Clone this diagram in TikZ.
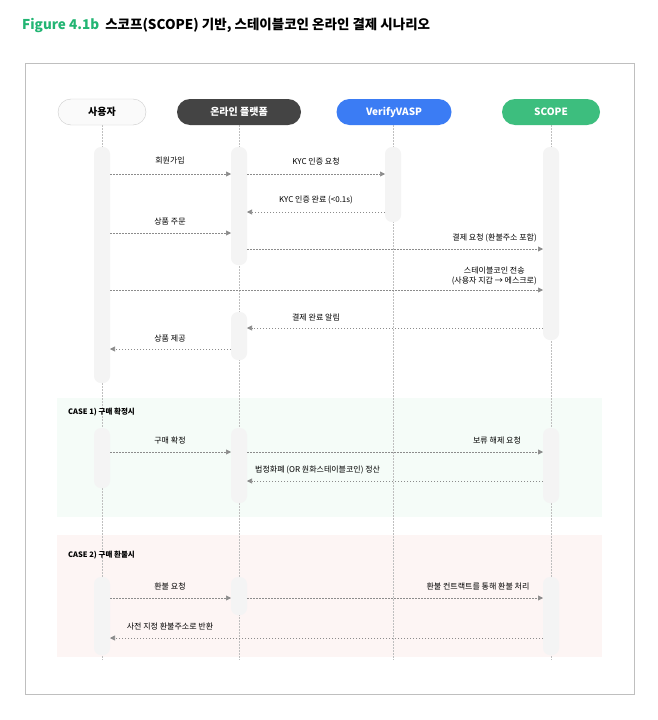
\documentclass[tikz,border=0pt]{standalone}
\usepackage{fontspec}
\setmainfont{Noto Sans CJK KR}
\usetikzlibrary{arrows.meta}
\definecolor{tgreen}{HTML}{22B573}
\definecolor{vblue}{HTML}{3B7CF4}
\definecolor{sgreen}{HTML}{3DBE7E}
\definecolor{dark}{HTML}{444444}
\definecolor{bar}{HTML}{F4F4F4}
\definecolor{case1bg}{HTML}{F5FCF8}
\definecolor{case2bg}{HTML}{FDF5F4}
\tikzset{
 hdr/.style={rounded corners=13pt,minimum height=26pt,font=\fontsize{10}{12}\selectfont\bfseries,inner sep=0pt},
 lane/.style={draw=black!25,dashed,dash pattern=on 1.5pt off 1.5pt,line width=0.6pt},
 actbar/.style={fill=bar,rounded corners=7pt},
 msg/.style={draw=black!45,line width=0.6pt,dash pattern=on 1.5pt off 1.5pt,-{Triangle[length=5pt,width=5pt]}},
 lbl/.style={font=\fontsize{8}{9.5}\selectfont,inner sep=0pt,align=center},
 case/.style={font=\fontsize{7.5}{9}\selectfont\bfseries,inner sep=0pt,anchor=west}
}
\begin{document}
\begin{tikzpicture}[x=1pt,y=-1pt]
\useasboundingbox (0,0) rectangle (658,720);
\fill[white] (0,0) rectangle (658,720);
\node[anchor=west,inner sep=0pt,font=\fontsize{13.5}{16}\selectfont\bfseries] (title) at (22,25) {\textcolor{tgreen}{Figure 4.1b}\ \ 스코프(SCOPE) 기반, 스테이블코인 온라인 결제 시나리오};
\draw[black!25,line width=0.8pt] (25,63) rectangle (634,694);
\fill[case1bg] (57,398) rectangle (602,517);
\fill[case2bg] (57,535) rectangle (602,657);
% lifelines
\foreach \x in {102,239,393,551} \draw[lane] (\x,125) -- (\x,660);
% headers
\node[hdr,draw=black!20,fill=black!2,minimum width=88pt] (u) at (102,112) {사용자};
\node[hdr,fill=dark,text=white,minimum width=124pt] (p) at (239,112) {온라인 플랫폼};
\node[hdr,fill=vblue,text=white,minimum width=115pt] (v) at (394,112) {VerifyVASP};
\node[hdr,fill=sgreen,text=white,minimum width=98pt] (s) at (551,112) {SCOPE};
% activation bars
\fill[actbar] (94,147) rectangle (110,383);
\fill[actbar] (231,147) rectangle (247,265);
\fill[actbar] (231,312) rectangle (247,360);
\fill[actbar] (385,147) rectangle (401,222);
\fill[actbar] (543,147) rectangle (559,340);
\fill[actbar] (94,428) rectangle (110,488);
\fill[actbar] (231,428) rectangle (247,503);
\fill[actbar] (543,428) rectangle (559,503);
\fill[actbar] (94,577) rectangle (110,655);
\fill[actbar] (231,577) rectangle (247,615);
\fill[actbar] (543,577) rectangle (559,655);
% coordinates
\foreach \n/\x in {U/110,PL/231,PR/247,VL/385,SL/543}{
  \foreach \y in {174,212,233,249,290,328,349,452,481,598,638}{\coordinate (\n\y) at (\x,\y);}}
\draw[msg] (U174) -- (PL174); \node[lbl] (m1) at (170,161) {회원가입};
\draw[msg] (PR174) -- (VL174); \node[lbl] (m2) at (316,161) {KYC 인증 요청};
\draw[msg] (VL212) -- (PR212); \node[lbl] (m3) at (316,200) {KYC 인증 완료 (<0.1s)};
\draw[msg] (U233) -- (PL233); \node[lbl] (m4) at (170,221) {상품 주문};
\draw[msg] (PR249) -- (SL249); \node[lbl,anchor=east] (m5) at (537,238) {결제 요청 (환불주소 포함)};
\draw[msg] (U290) -- (SL290); \node[lbl,anchor=east] (m6) at (537,276) {스테이블코인 전송\\(사용자 지갑 → 에스크로)};
\draw[msg] (SL328) -- (PR328); \node[lbl] (m7) at (316,317) {결제 완료 알림};
\draw[msg] (PL349) -- (U349); \node[lbl] (m8) at (170,338) {상품 제공};
\node[case] (c1) at (68,412) {CASE 1) 구매 확정시};
\draw[msg] (U452) -- (PL452); \node[lbl] (m9) at (170,440) {구매 확정};
\draw[msg] (PR452) -- (SL452); \node[lbl] (m10) at (497,440) {보류 해제 요청};
\draw[msg] (SL481) -- (PR481); \node[lbl,anchor=west] (m11) at (255,470) {법정화폐 (OR 원화스테이블코인) 정산};
\node[case] (c2) at (68,555) {CASE 2) 구매 환불시};
\draw[msg] (U598) -- (PL598); \node[lbl] (m12) at (170,586) {환불 요청};
\draw[msg] (PR598) -- (SL598); \node[lbl] (m13) at (478,586) {환불 컨트랙트를 통해 환불 처리};
\draw[msg] (SL638) -- (U638); \node[lbl] (m14) at (170,626) {사전 지정 환불주소로 반환};
\end{tikzpicture}
\end{document}
